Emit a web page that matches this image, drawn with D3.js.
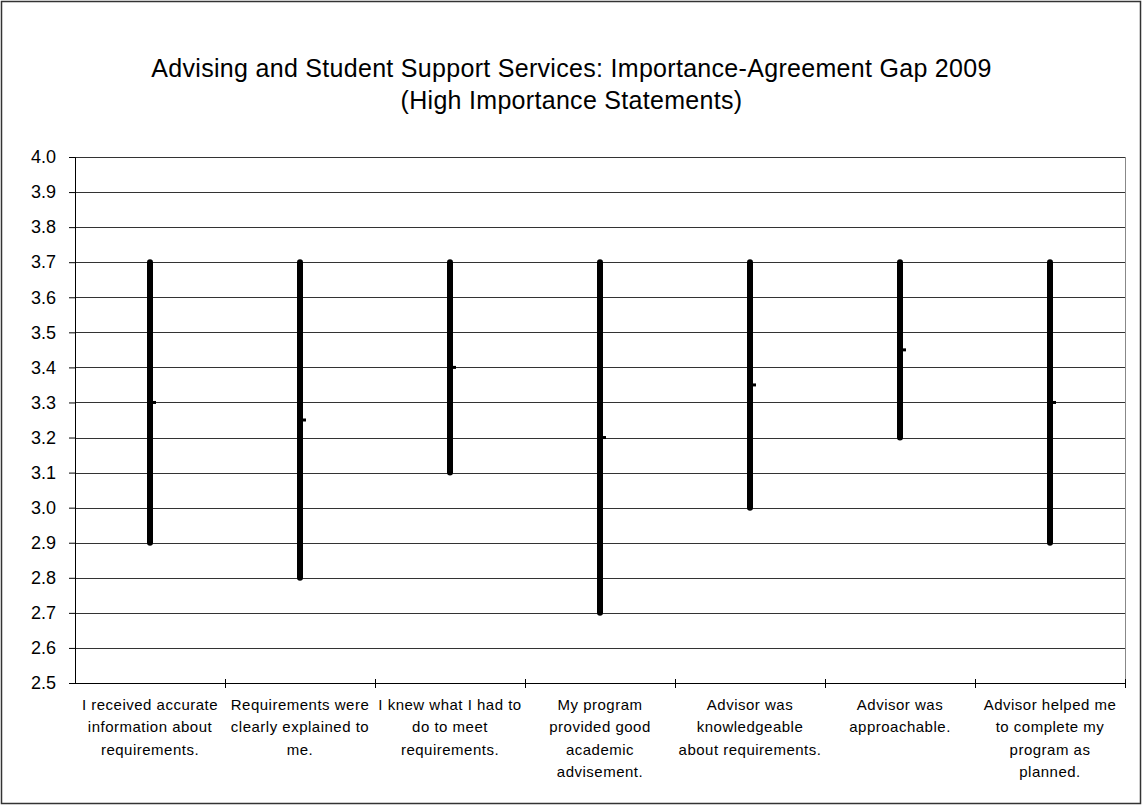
<!DOCTYPE html>
<html>
<head>
<meta charset="utf-8">
<script src="https://cdn.jsdelivr.net/npm/d3@7"></script>
<style>
  body { margin: 0; background: #fff; }
  text { font-family: "Liberation Sans", Arial, sans-serif; fill: #000; }
</style>
</head>
<body>
<svg width="1143" height="806"></svg>
<script>
// statements (x categories), each split into the lines shown under the axis
const statementLines = [
  ['I received accurate', 'information about', 'requirements.'],
  ['Requirements were', 'clearly explained to', 'me.'],
  ['I knew what I had to', 'do to meet', 'requirements.'],
  ['My program', 'provided good', 'academic', 'advisement.'],
  ['Advisor was', 'knowledgeable', 'about requirements.'],
  ['Advisor was', 'approachable.'],
  ['Advisor helped me', 'to complete my', 'program as', 'planned.']
];
const statements = statementLines.map(l => l.join(' '));

// importance (high), agreement (low), midpoint (close)
const highValues = [3.7, 3.7, 3.7, 3.7, 3.7, 3.7, 3.7];
const lowValues = [2.9, 2.8, 3.1, 2.7, 3.0, 3.2, 2.9];
const midValues = [3.3, 3.25, 3.4, 3.2, 3.35, 3.45, 3.3];

const yTicks = [2.5, 2.6, 2.7, 2.8, 2.9, 3.0, 3.1, 3.2, 3.3, 3.4, 3.5, 3.6, 3.7, 3.8, 3.9, 4.0];

const titleLines = [
  'Advising and Student Support Services: Importance-Agreement Gap 2009',
  '(High Importance Statements)'
];

const svg = d3.select('svg');
const width = +svg.attr('width');
const height = +svg.attr('height');

const margin = { top: 157, right: 18, bottom: 123, left: 75 };
const innerWidth = width - margin.left - margin.right;
const innerHeight = height - margin.top - margin.bottom;

// outer chart border
svg.append('rect')
  .attr('x', 1.5).attr('y', 1.5)
  .attr('width', width - 4).attr('height', height - 4)
  .attr('fill', 'none')
  .attr('stroke', '#333')
  .attr('stroke-width', 1.5);

svg.selectAll('.title').data(titleLines)
  .enter().append('text')
  .attr('class', 'title')
  .attr('x', width / 2)
  .attr('y', (d, i) => 77 + i * 32)
  .attr('text-anchor', 'middle')
  .attr('font-size', 25)
  .attr('letter-spacing', 0.3)
  .text(d => d);

const g = svg.append('g')
  .attr('transform', `translate(${margin.left},${margin.top})`);

const xScale = d3.scaleBand()
  .domain(statements)
  .range([0, innerWidth]);

const yScale = d3.scaleLinear()
  .domain([2.5, 4.0])
  .range([innerHeight, 0]);

// gridlines
g.append('g').selectAll('line').data(yTicks)
  .enter().append('line')
  .attr('x1', 0).attr('x2', innerWidth)
  .attr('y1', d => Math.round(yScale(d)) + 0.5)
  .attr('y2', d => Math.round(yScale(d)) + 0.5)
  .attr('stroke', '#333')
  .attr('stroke-width', 1);

// right edge of plot area
g.append('line')
  .attr('x1', innerWidth + 0.5).attr('x2', innerWidth + 0.5)
  .attr('y1', 0).attr('y2', innerHeight)
  .attr('stroke', '#888');

const yAxis = d3.axisLeft(yScale)
  .tickValues(yTicks)
  .tickFormat(d3.format('.1f'))
  .tickSize(6)
  .tickPadding(13);

const yAxisG = g.append('g').call(yAxis);
yAxisG.selectAll('text')
  .attr('font-size', 18)
  .attr('font-family', '"Liberation Sans", Arial, sans-serif');
yAxisG.selectAll('line, path').attr('stroke', '#000');

// x axis with tick marks at category boundaries
const xAxisG = g.append('g')
  .attr('transform', `translate(0,${innerHeight})`);
xAxisG.append('line')
  .attr('x1', 0).attr('x2', innerWidth)
  .attr('y1', 0.5).attr('y2', 0.5)
  .attr('stroke', '#000');
const bounds = statements.map(d => xScale(d) + xScale.bandwidth());
xAxisG.selectAll('.xtick').data(bounds)
  .enter().append('line')
  .attr('class', 'xtick')
  .attr('x1', d => Math.round(d) + 0.5).attr('x2', d => Math.round(d) + 0.5)
  .attr('y1', -4).attr('y2', 5)
  .attr('stroke', '#000');

const labels = xAxisG.selectAll('.xlabel').data(statementLines)
  .enter().append('text')
  .attr('class', 'xlabel')
  .attr('text-anchor', 'middle')
  .attr('font-size', 15)
  .attr('letter-spacing', 0.5)
  .attr('transform', (d, i) => `translate(${xScale(statements[i]) + xScale.bandwidth() / 2},27)`);
labels.selectAll('tspan').data(d => d)
  .enter().append('tspan')
  .attr('x', 0)
  .attr('y', (d, i) => i * 22.3)
  .text(d => d);

// high-low bars
const cx = i => Math.round(xScale(statements[i]) + xScale.bandwidth() / 2);
g.selectAll('.hl').data(statements)
  .enter().append('line')
  .attr('class', 'hl')
  .attr('x1', (d, i) => cx(i)).attr('x2', (d, i) => cx(i))
  .attr('y1', (d, i) => yScale(highValues[i]))
  .attr('y2', (d, i) => yScale(lowValues[i]))
  .attr('stroke', '#000')
  .attr('stroke-width', 6)
  .attr('stroke-linecap', 'round');

// close markers
g.selectAll('.close').data(statements)
  .enter().append('rect')
  .attr('class', 'close')
  .attr('x', (d, i) => cx(i) + 2)
  .attr('y', (d, i) => yScale(midValues[i]) - 1.5)
  .attr('width', 4)
  .attr('height', 3)
  .attr('fill', '#000');
</script>
</body>
</html>
